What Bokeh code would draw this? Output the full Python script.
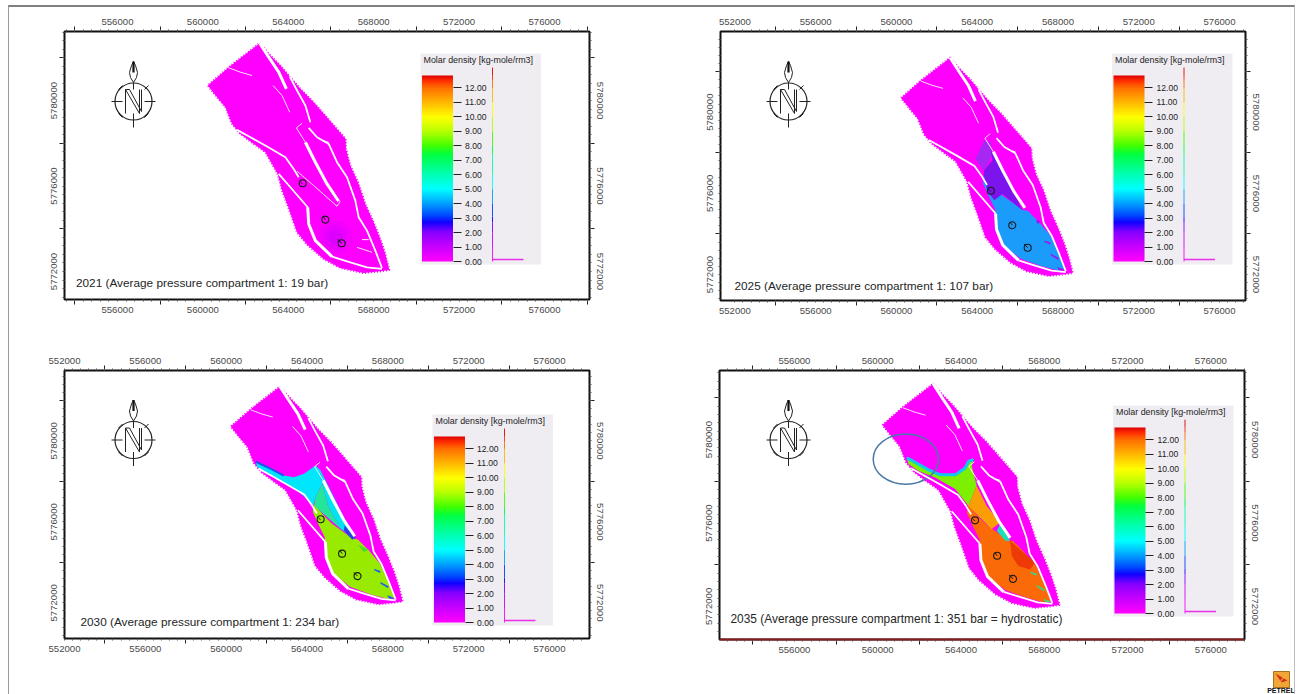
import numpy as np
from bokeh.core.properties import value
from bokeh.embed import file_html
from bokeh.layouts import column, row
from bokeh.models import ColorBar, FixedTicker, LinearAxis, LinearColorMapper, NumeralTickFormatter, Range1d
from bokeh.plotting import figure
from bokeh.resources import INLINE

# ---------- axes ----------
X_LABEL_TICKS = [552000, 556000, 560000, 564000, 568000, 572000, 576000]
X_MAJOR_TICKS = [554000, 558000, 562000, 566000, 570000, 574000, 578000]
Y_LABEL_TICKS = [5772000, 5776000, 5780000]
Y_MAJOR_TICKS = [5770000, 5774000, 5778000, 5782000]
COLORBAR_TICKS = [0, 1, 2, 3, 4, 5, 6, 7, 8, 9, 10, 11, 12]
COLORBAR_TITLE = "Molar density [kg-mole/rm3]"

# ---------- colour scale ----------
STOP_VALUES = [0.0, 1.0, 2.0, 2.7, 3.1, 4.0, 5.0, 6.0, 7.4, 8.0, 9.0, 10.0, 11.0, 12.0, 12.5, 12.85]
STOP_COLORS = ["#ff00ff", "#c800ff", "#8800ff", "#1000ff", "#0040ff", "#00a0ff", "#00ffff", "#00ffb4",
               "#00ff40", "#40ff00", "#b8ff00", "#ffff00", "#ffb800", "#ff7000", "#ff3000", "#e00000"]

# ---------- digitised map geometry (map-sheet grid units) ----------
FIELD_A = [178, 205, 240, 268, 300, 340, 375, 410, 436, 437, 450, 475, 495, 520, 540, 555, 567, 540, 490, 420, 370, 320,
           290, 262, 245, 232, 215, 195, 160, 120, 95, 75, 50, 22, 85, 130]
FIELD_B = [8, 40, 75, 108, 145, 185, 225, 265, 295, 325, 375, 430, 490, 545, 595, 640, 688, 692, 697, 682, 655, 612,
           575, 495, 450, 400, 370, 335, 310, 280, 250, 200, 170, 135, 80, 45]

FAULTS_THICK = [
    [(178, 8), (205, 50), (235, 95), (258, 145)],
    [(315, 305), (345, 365), (380, 430), (415, 482)],
    [(322, 500), (325, 550), (345, 600), (395, 648)],
]
FAULTS_MEDIUM = [
    [(268, 108), (290, 150), (315, 195), (330, 245)],
    [(110, 268), (150, 290), (200, 318), (255, 350), (280, 385), (295, 410)],
    [(325, 262), (350, 290), (385, 310), (410, 365), (440, 410), (465, 480), (475, 530), (500, 570), (525, 630), (545, 682)],
    [(235, 400), (270, 440), (322, 500)],
    [(395, 648), (450, 665), (500, 680), (545, 685)],
]
FAULTS_THIN = [
    [(218, 135), (245, 165), (268, 215)],
    [(85, 82), (120, 95), (155, 105)],
    [(305, 248), (288, 262), (315, 305)],
    [(365, 300), (385, 305)],
]
FAULTS_THIN_FIRST_PANEL = [
    [(290, 392), (340, 435), (410, 497), (420, 482)],
    [(485, 597), (505, 597)],
    [(470, 620), (515, 635)],
]

WELL_A = [307, 375, 424]
WELL_B = [428, 537, 608]
WELL_TAILS = [[(300, 424), (307, 430)], [(369, 528), (375, 537)], [(412, 596), (424, 608)]]

LOWER_A = [285, 322, 344, 407, 425, 458, 495, 522, 542, 524, 466, 400, 345, 328, 320, 300, 282]
LOWER_B = [380, 422, 443, 488, 492, 525, 568, 625, 676, 681, 666, 642, 598, 552, 485, 445, 405]

NOTCHES = [
    [(450, 520), (466, 525), (456, 533)],
    [(476, 585), (497, 592), (495, 598), (478, 590)],
    [(497, 627), (524, 641), (520, 646), (497, 632)],
    [(518, 669), (534, 674), (542, 680), (524, 680)],
]

GLOW_A, GLOW_B = [405], [590]

P2_LIGHT_PURPLE = [(285, 270), (306, 275), (312, 312), (285, 364), (259, 327)]
P2_DARK_PURPLE = [(306, 300), (360, 396), (407, 490), (344, 438), (318, 458), (296, 430), (285, 380), (285, 364), (312, 332)]

P3_CYAN_TOP = [(101, 247), (148, 268), (190, 290), (222, 295), (254, 284), (291, 258), (307, 274), (312, 316), (291, 358),
               (284, 384), (233, 337), (180, 305), (127, 279), (106, 263)]
P3_TEAL = [(312, 316), (330, 384), (370, 458), (286, 385), (291, 358)]
P3_CYAN_WEDGE = [(307, 274), (413, 487), (370, 458), (330, 384), (312, 316)]
P3_BLUE_NOTCH = [(383, 448), (418, 487), (407, 493), (381, 464)]
P3_GREEN_SPOT = [(425, 508), (460, 525), (444, 532)]
P3_FRONT = [(101, 246), (120, 255), (148, 268), (190, 290)]

P4_LIME = [(97, 235), (118, 245), (164, 270), (200, 286), (246, 286), (276, 265), (287, 245), (302, 240), (297, 260),
           (312, 322), (287, 384), (246, 332), (184, 296), (133, 276), (102, 255)]
P4_ORANGE = [(312, 322), (343, 384), (384, 435), (358, 455), (287, 384)]
P4_RED = [(415, 491), (451, 522), (492, 558), (476, 579), (440, 568), (420, 537)]
P4_NOTCH = [(384, 440), (415, 491), (400, 491), (374, 460)]
P4_FRONT = [(97, 236), (118, 247), (164, 273), (200, 288), (246, 288), (276, 268), (287, 247), (302, 241)]
P4_RING_A, P4_RING_B, P4_RING_RX, P4_RING_RY = [94], [240], [98], [75]

# ---------- compass (pixel offsets from its centre) ----------
COMPASS_LINES = [
    [(-22, 0), (-11, 0)], [(11, 0), (22, 0)], [(0, -19), (0, -12)], [(0, 12), (0, 26)],
    [(-8, 12), (-8, -12), (6, 12), (6, -12)], [(-8, -12), (-4, -12), (8, 10), (8, -12)],
    [(-11, -16), (-15, -12)], [(15, -16), (11, -12)], [(-15, 12), (-11, 16)], [(11, 16), (15, 12)],
    [(0, -19), (-3, -24), (-4, -29), (-2, -36), (0, -40), (2, -36), (4, -29), (3, -24), (0, -19)],
]
COMPASS_SPINE = [(0, -40), (0, -29)]

PANELS = [
    dict(w=645, h=333, ml=55, mr=65, mt=24, mb=41, fl=64, ft=31, fr=589, fb=299,
         xr=(553519, 578107), yr=(5770688, 5783232), box=(420, 53), comp=(133, 101),
         title="2021 (Average pressure compartment 1: 19 bar)", tpos=(75.5, 282), fs="11.8px"),
    dict(w=640, h=333, ml=66, mr=49, mt=24, mb=40, fl=720, ft=31, fr=1245, fb=300,
         xr=(551287, 577287), yr=(5770719, 5783975), box=(1111.5, 53), comp=(788, 101),
         title="2025 (Average pressure compartment 1: 107 bar)", tpos=(734, 285), fs="11.8px"),
    dict(w=645, h=354, ml=55, mr=65, mt=30, mb=56, fl=64, ft=370, fr=589, fb=638,
         xr=(552000, 577980), yr=(5770237, 5783472), box=(432, 414), comp=(133, 439.5),
         title="2030 (Average pressure compartment 1: 234 bar)", tpos=(80, 621), fs="11.8px"),
    dict(w=640, h=320, ml=65, mr=50, mt=30, mb=21, fl=719, ft=370, fr=1244, fb=639,
         xr=(552403, 577616), yr=(5770413, 5783317), box=(1112.5, 405), comp=(788, 439.5),
         title="2035 (Average pressure compartment 1: 351 bar = hydrostatic)", tpos=(730, 618), fs="11.9px"),
]

FONT = value("Liberation Sans")
TICK_COLOR = "#4a4a4a"


def rgb(h):
    return np.array([int(h[i:i + 2], 16) for i in (1, 3, 5)], float)


def scale_color(v):
    c = [np.interp(v, STOP_VALUES, [rgb(h)[k] for h in STOP_COLORS]) for k in range(3)]
    return "#%02x%02x%02x" % tuple(int(round(t)) for t in c)


PALETTE = [scale_color(v) for v in np.linspace(0, 12.85, 256)]


def east(a):
    return 559886 + 15.6 * np.asarray(a, float)


def north(b):
    return 5782810 - 15.61 * np.asarray(b, float)


def add_shape(p, pts, color):
    a, b = zip(*pts)
    p.patch(east(a), north(b), fill_color=color, line_color=None)


def add_axes(p, s):
    minor_x = [float(v) for v in np.arange(552000, 578400, 400)]
    minor_y = [float(v) for v in np.arange(5770000, 5784400, 400)]
    for side, is_x in (("below", True), ("above", True), ("left", False), ("right", False)):
        major = X_MAJOR_TICKS if is_x else Y_MAJOR_TICKS
        labels = X_LABEL_TICKS if is_x else Y_LABEL_TICKS
        minor = minor_x if is_x else minor_y
        inner = LinearAxis(ticker=FixedTicker(ticks=major, minor_ticks=minor),
                           major_label_overrides={t: "" for t in major},
                           major_tick_out=5, major_tick_in=0, minor_tick_out=2, minor_tick_in=0,
                           major_tick_line_color="#222222", minor_tick_line_color="#555555",
                           major_label_standoff=0, axis_line_color=None,
                           major_label_text_font_size="1px")
        if side == "below" and s is PANELS[3]:
            inner.axis_line_color = "#8a1a1a"
            inner.axis_line_width = 2
        p.add_layout(inner, side)
        outer = LinearAxis(ticker=FixedTicker(ticks=labels), formatter=NumeralTickFormatter(format="0"),
                           major_tick_out=0, major_tick_in=0, minor_tick_out=0, minor_tick_in=0,
                           axis_line_color=None, major_tick_line_color=None, minor_tick_line_color=None,
                           major_label_standoff=2 if is_x else 2, major_label_text_font="Liberation Sans",
                           major_label_text_font_size="9.6px", major_label_text_color=TICK_COLOR)
        if not is_x:
            outer.major_label_orientation = "vertical"
        p.add_layout(outer, side)


def make_panel(s, index):
    p = figure(width=s["w"], height=s["h"], x_range=Range1d(*s["xr"]), y_range=Range1d(*s["yr"]),
               x_axis_type=None, y_axis_type=None, toolbar_location=None, output_backend="svg",
               min_border_left=s["ml"], min_border_right=s["mr"], min_border_top=s["mt"], min_border_bottom=s["mb"])
    p.frame_align = False
    p.outline_line_color = "#111111"
    p.outline_line_width = 2
    add_axes(p, s)

    def px(v):
        return s["xr"][0] + (np.asarray(v, float) - s["fl"]) / (s["fr"] - s["fl"]) * (s["xr"][1] - s["xr"][0])

    def py(v):
        return s["yr"][1] - (np.asarray(v, float) - s["ft"]) / (s["fb"] - s["ft"]) * (s["yr"][1] - s["yr"][0])

    # field, with a dashed rim that gives its serrated edge
    p.patch(east(FIELD_A), north(FIELD_B), fill_color="#ff00ff", line_color="#ff00ff", line_width=2.2, line_dash="1 2")
    if index == 0:
        for size, alpha in ((34, 0.1), (24, 0.14), (14, 0.18)):
            p.scatter(east(GLOW_A), north(GLOW_B), size=size, fill_color="#a000ff", fill_alpha=alpha, line_color=None)
    if index == 1:
        add_shape(p, LOWER, "#1b9bfa")
        add_shape(p, P2_LIGHT_PURPLE, "#a628f2")
        add_shape(p, P2_DARK_PURPLE, "#7c14ee")
        for n in NOTCHES:
            add_shape(p, n, "#a010f0")
    if index == 2:
        add_shape(p, LOWER, "#97ea00")
        add_shape(p, P3_CYAN_TOP, "#00e6fb")
        add_shape(p, P3_TEAL, "#24e69a")
        add_shape(p, P3_CYAN_WEDGE, "#00e4f0")
        add_shape(p, P3_BLUE_NOTCH, "#2a40f0")
        add_shape(p, P3_GREEN_SPOT, "#4cd82c")
        for n in NOTCHES[1:]:
            add_shape(p, n, "#2060f0")
        a, b = zip(*P3_FRONT)
        p.line(east(a), north(b), line_color="#2050f0", line_width=2)
    if index == 3:
        add_shape(p, LOWER, "#fb6a08")
        add_shape(p, P4_LIME, "#7cf000")
        add_shape(p, P4_ORANGE, "#fb9e06")
        add_shape(p, P4_RED, "#ee3a06")
        add_shape(p, P4_NOTCH, "#18e0b8")
        for n in NOTCHES[1:]:
            add_shape(p, n, "#38d880")
        a, b = zip(*P4_FRONT)
        p.line(east(a), north(b), line_color="#10c8f0", line_width=3)
        p.ellipse(east(P4_RING_A), north(P4_RING_B), width=2 * 15.99 * np.array(P4_RING_RX, float),
                  height=2 * 16.03 * np.array(P4_RING_RY, float), fill_color=None,
                  line_color="#4a78a8", line_width=1.5)

    # faults
    thin = FAULTS_THIN + FAULTS_THIN_FIRST_PANEL if index == 0 else FAULTS_THIN
    for faults, width in ((FAULTS_THICK, 3), (FAULTS_MEDIUM, 1.8), (thin, 0.9)):
        p.multi_line([list(east([q[0] for q in f])) for f in faults], [list(north([q[1] for q in f])) for f in faults],
                     line_color="white", line_width=width)

    # wells
    p.scatter(east(WELL_A), north(WELL_B), size=7, marker="circle", fill_color=None, line_color="#1a1a1a", line_width=1.1)
    p.multi_line([list(east([q[0] for q in t])) for t in WELL_TAILS], [list(north([q[1] for q in t])) for t in WELL_TAILS],
                 line_color="#1a1a1a", line_width=1)

    # compass
    cx, cy = s["comp"]
    p.scatter(px([cx]), py([cy]), size=37, marker="circle", fill_color=None, line_color="#222222", line_width=1.2)
    p.multi_line([list(px([cx + q[0] for q in l])) for l in COMPASS_LINES],
                 [list(py([cy + q[1] for q in l])) for l in COMPASS_LINES], line_color="#222222", line_width=1)
    p.line(px([cx + q[0] for q in COMPASS_SPINE]), py([cy + q[1] for q in COMPASS_SPINE]), line_color="#111111", line_width=2.2)

    # caption
    p.text(px([s["tpos"][0]]), py([s["tpos"][1]]), text=[s["title"]], text_font=FONT, text_font_size=s["fs"],
           text_baseline="middle", text_align="left", text_color="#262626")

    # legend box, histogram, colour bar
    bx, by = s["box"]
    p.quad(left=px([bx]), right=px([bx + 120.5]), top=py([by]), bottom=py([by + 211]), fill_color="#efedf2", line_color=None)
    p.text(px([bx + 3]), py([by + 6]), text=[COLORBAR_TITLE], text_font=FONT, text_font_size="8.9px",
           text_baseline="middle", text_align="left", text_color="#222222")
    tick0 = by + 208
    per_unit = 14.47
    hx = bx + 72
    levels = STOP_VALUES + [13.4]
    p.segment(px([hx] * (len(levels) - 1)), py([tick0 - per_unit * v for v in levels[:-1]]),
              px([hx] * (len(levels) - 1)), py([tick0 - per_unit * v for v in levels[1:]]),
              line_color=[scale_color(v) for v in levels[:-1]], line_width=0.9)
    p.line(px([hx, hx + 31]), py([tick0 - 2, tick0 - 2]), line_color="#e830e8", line_width=1.5)
    mapper = LinearColorMapper(palette=PALETTE, low=0, high=12.85)
    bar = ColorBar(color_mapper=mapper, ticker=FixedTicker(ticks=COLORBAR_TICKS),
                   formatter=NumeralTickFormatter(format="0.00"),
                   major_label_text_font="Liberation Sans", major_label_text_font_size="8.6px",
                   major_label_text_color="#222222", label_standoff=4,
                   major_tick_in=0, major_tick_out=8, major_tick_line_color="#222222", minor_tick_line_color=None,
                   bar_line_color=None, border_line_color=None, background_fill_alpha=0,
                   width=31, height=186, padding=0, margin=0,
                   location=(bx + 1.5 - s["fl"], s["fb"] - (by + 208)))
    p.add_layout(bar)
    return p


LOWER = list(zip(LOWER_A, LOWER_B))

panels = [make_panel(s, i) for i, s in enumerate(PANELS)]

# Petrel logo strip under the last panel
logo = figure(width=640, height=34, x_range=Range1d(654, 1294), y_range=Range1d(694, 660), x_axis_type=None, y_axis_type=None,
              toolbar_location=None, output_backend="svg", min_border=0)
logo.frame_align = False
logo.outline_line_color = None
logo.quad(left=[1273], right=[1289], top=[671], bottom=[687], fill_color="#f0a636", line_color="#a8701c", line_width=1)
logo.patch([1275, 1287, 1281], [673, 680, 682], fill_color="#d8301c", line_color=None)
logo.patch([1287, 1277, 1281], [673, 685, 679], fill_color="#f8d040", line_color=None)
logo.text([1280.5], [689.8], text=["PETREL"], text_font=FONT, text_font_size="7px", text_font_style="bold",
          text_align="center", text_baseline="middle", text_color="#111111")

page = column(
    row(panels[0], panels[1], spacing=0),
    row(panels[2], column(panels[3], logo, spacing=0), spacing=0),
    spacing=0,
    margin=(5, 0, 0, 8),
    styles={"border-left": "1px solid #9a9a9a", "border-right": "1px solid #bdbdbd", "border-top": "2px solid #808080"},
)

open("out.html", "w").write(file_html(page, INLINE))
